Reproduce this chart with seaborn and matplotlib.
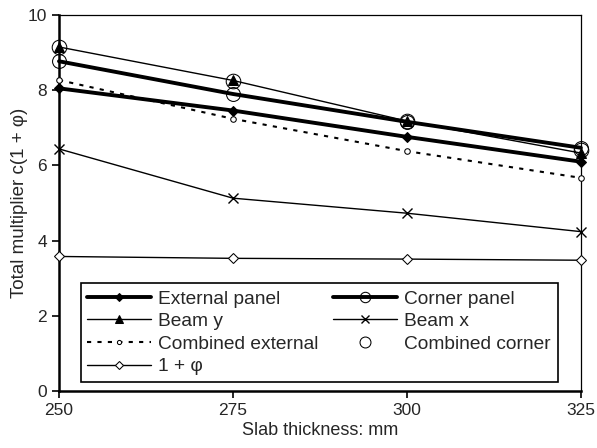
import matplotlib
matplotlib.use("Agg")
import matplotlib.pyplot as plt
import seaborn as sns
import pandas as pd

thickness = [250, 275, 300, 325]
external_panel = [8.05, 7.46, 6.76, 6.10]
corner_panel = [8.77, 7.90, 7.16, 6.47]
beam_y = [9.15, 8.26, 7.18, 6.33]
beam_x = [6.44, 5.13, 4.73, 4.24]
combined_external = [8.27, 7.24, 6.38, 5.67]
combined_corner = [9.15, 8.24, 7.18, 6.42]
one_plus_phi = [3.58, 3.53, 3.51, 3.48]

sns.set_theme(style="ticks")
plt.rcParams['font.family'] = ['Liberation Sans', 'DejaVu Sans']
plt.rcParams['mathtext.fontset'] = 'dejavusans'

fig, ax = plt.subplots(figsize=(5.97, 4.48), dpi=100)
fig.subplots_adjust(left=0.0988, right=0.973, top=0.9665, bottom=0.127)

series = [
    ("External panel", external_panel, dict(marker='D', markersize=5, linewidth=2.8, linestyle='-',
                                            markerfacecolor='black')),
    ("Beam y", beam_y, dict(marker='^', markersize=7, linewidth=1.0, linestyle='-',
                             markerfacecolor='black')),
    ("Combined external", combined_external, dict(marker='o', markersize=4, linewidth=1.5,
                                                  linestyle=(0, (2, 3)), markerfacecolor='white')),
    ("1 + \u03c6", one_plus_phi, dict(marker='D', markersize=5, linewidth=1.0, linestyle='-',
                                  markerfacecolor='white')),
    ("Corner panel", corner_panel, dict(marker='o', markersize=10, linewidth=2.8, linestyle='-',
                                        markerfacecolor='none')),
    ("Beam x", beam_x, dict(marker='x', markersize=7, linewidth=1.0, linestyle='-',
                             markeredgewidth=1.0)),
    ("Combined corner", combined_corner, dict(marker='o', markersize=10.5, linewidth=0, linestyle='none',
                                              markerfacecolor='none')),
]

for name, vals, kw in series:
    df = pd.DataFrame({"x": thickness, "y": vals})
    sns.lineplot(data=df, x="x", y="y", ax=ax, color='black', markeredgecolor='black',
                 label=name, clip_on=False, zorder=3, **kw)

ax.set_xlim(250, 325)
ax.set_ylim(0, 10)
ax.set_xticks(thickness)
ax.set_yticks([0, 2, 4, 6, 8, 10])
ax.set_xlabel("Slab thickness: mm", fontsize=13, labelpad=3)
ax.set_ylabel("Total multiplier c(1 + \u03c6)", fontsize=13.5, labelpad=0)
ax.tick_params(axis='both', labelsize=12.5, direction='out', length=5, width=1.2, color='black')
for s in ['left', 'bottom']:
    ax.spines[s].set_linewidth(1.8)
for s in ['top', 'right']:
    ax.spines[s].set_linewidth(0.9)
for s in ax.spines.values():
    s.set_color('black')

leg = ax.legend(ncol=2, loc='lower left', bbox_to_anchor=(0.0416, 0.024, 0.914, 0.263), mode='expand',
                borderaxespad=0, fontsize=13.8, frameon=True, fancybox=False, edgecolor='black',
                framealpha=1, handlelength=3.3, columnspacing=0.7, labelspacing=0.27, borderpad=0.35,
                handletextpad=0.4, markerscale=0.75)
leg.get_frame().set_linewidth(1.2)

fig.savefig("out.png", dpi=100)
